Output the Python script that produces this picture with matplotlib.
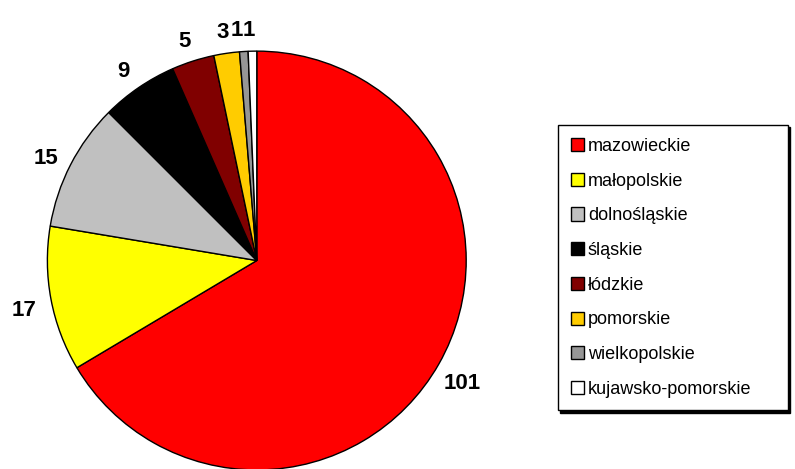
import matplotlib
matplotlib.use("Agg")
import matplotlib.pyplot as plt

regions = ["mazowieckie", "małopolskie", "dolnośląskie", "śląskie", "łódzkie",
           "pomorskie", "wielkopolskie", "kujawsko-pomorskie"]
counts = [101, 17, 15, 9, 5, 3, 1, 1]
colors = ["#ff0000", "#ffff00", "#c0c0c0", "#000000", "#800000",
          "#ffcc00", "#969696", "#ffffff"]

plt.rcParams["font.family"] = ["Liberation Sans", "DejaVu Sans"]

fig = plt.figure(figsize=(7.95, 4.69), dpi=100)
ax = fig.add_axes([0.059, -0.002, 0.528, 0.893])

wedges, texts = ax.pie(
    counts, colors=colors, startangle=90, counterclock=False,
    labels=[str(c) for c in counts], labeldistance=1.13,
    wedgeprops=dict(edgecolor="black", linewidth=1.0),
    textprops=dict(fontsize=16, fontweight="bold", ha="center", va="center"),
)
ax.set_xlim(-1, 1)
ax.set_ylim(-1, 1)
ax.set_aspect("equal")

# labels sit a little lower than the default spot; the two "1"s are packed tight
for t in texts:
    x, y = t.get_position()
    t.set_position((x, y - 0.03))
x, y = texts[-2].get_position()
texts[-2].set_position((x - 0.025, y))
x, y = texts[-1].get_position()
texts[-1].set_position((x - 0.015, y))

leg = fig.legend(
    wedges, regions, loc="upper left",
    bbox_to_anchor=(558 / 795, 1 - 130 / 469, 230 / 795, 0.01),
    mode="expand", fontsize=13, labelspacing=0.98, handlelength=0.75,
    handleheight=0.75, handletextpad=0.2, borderpad=0.7, borderaxespad=0,
    fancybox=False, edgecolor="black", framealpha=1,
    shadow={"ox": 1.5, "oy": -1.5, "facecolor": "black",
            "edgecolor": "black", "alpha": 1},
)
leg.get_frame().set_linewidth(1.0)

fig.savefig("out.png", dpi=100)
